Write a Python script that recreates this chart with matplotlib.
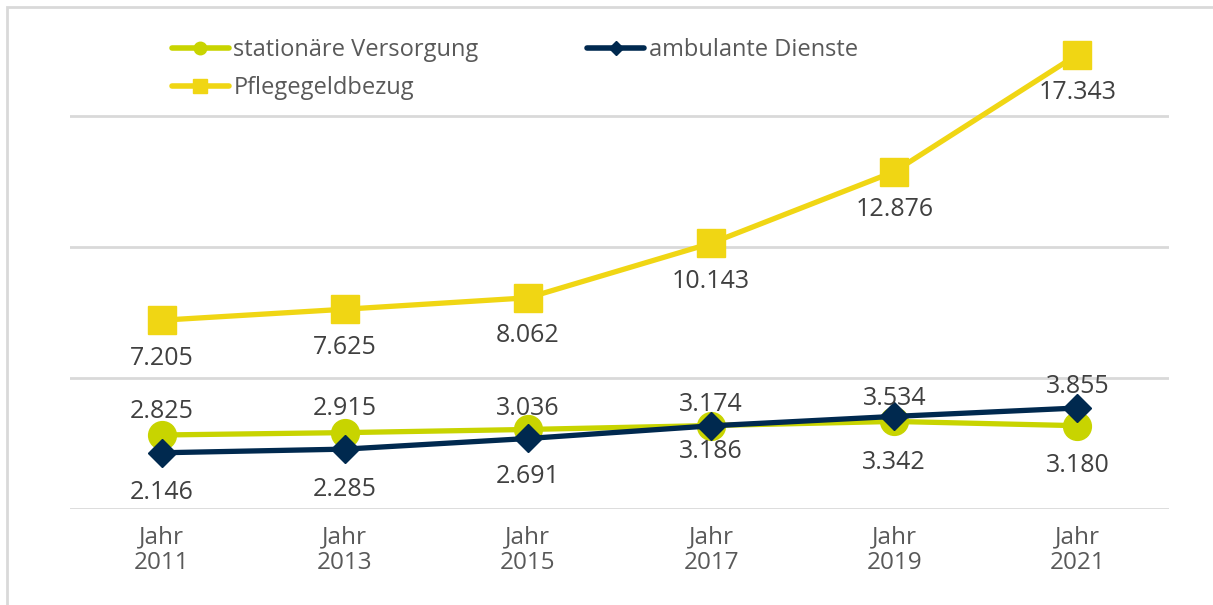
import numpy as np
import matplotlib.pyplot as plt
from matplotlib.lines import Line2D
from matplotlib.patches import Rectangle

# data
years = ["Jahr\n2011", "Jahr\n2013", "Jahr\n2015", "Jahr\n2017", "Jahr\n2019", "Jahr\n2021"]
stationaer = [2825, 2915, 3036, 3186, 3342, 3180]
ambulant = [2146, 2285, 2691, 3174, 3534, 3855]
pflegegeld = [7205, 7625, 8062, 10143, 12876, 17343]

c_stat = "#C8D400"
c_amb = "#00294F"
c_pfl = "#F0D614"
c_text = "#404040"

plt.rcParams['font.family'] = ['Open Sans', 'DejaVu Sans']

fig = plt.figure(figsize=(12.13, 6.05), dpi=100)
W, H = 1213, 605
# axes area in pixels: x 70..1169, y top 10 .. bottom 509
ax = fig.add_axes([70 / W, 1 - 509 / H, (1169 - 70) / W, (509 - 10) / H])

x = np.arange(len(years))
ax.plot(x, pflegegeld, color=c_pfl, lw=3.8, marker="s", ms=20, zorder=3, solid_capstyle="round")
ax.plot(x, stationaer, color=c_stat, lw=3.8, marker="o", ms=20, zorder=4, solid_capstyle="round")
ax.plot(x, ambulant, color=c_amb, lw=3.8, marker="D", ms=14, zorder=5, solid_capstyle="round")

ax.set_xlim(-0.5, len(years) - 0.5)
ax.set_ylim(0, (509 - 10) / 131 * 5000)
for g in [0, 5000, 10000, 15000]:
    ax.axhline(g, color="#D9D9D9", lw=2, zorder=1)

# label offsets in pixels (negative = below)
off_pfl = [-38, -38, -38, -38, -38, -38]
off_stat = [23, 24, 21, -26, -41, -40]
off_amb = [-40, -40, -38, 21, 18, 21]

def labels(vals, offs):
    for i, (v, o) in enumerate(zip(vals, offs)):
        txt = f"{v:,}".replace(",", ".")
        ax.annotate(txt, (i, v), xytext=(0, o), textcoords="offset pixels",
                    ha="center", va="center", fontsize=18, color=c_text, zorder=6)

labels(pflegegeld, off_pfl)
labels(stationaer, off_stat)
labels(ambulant, off_amb)

ax.set_xticks(x)
ax.set_xticklabels(years, fontsize=17.5, color="#595959", linespacing=1.1)
ax.tick_params(axis="x", length=0, pad=12)
ax.set_yticks([])
for s in ax.spines.values():
    s.set_visible(False)

# legend fills column-wise, so order handles to get the row layout of the original
handles = [
    Line2D([], [], color=c_stat, lw=4, marker="o", ms=9, solid_capstyle="round"),
    Line2D([], [], color=c_pfl, lw=4, marker="s", ms=10, solid_capstyle="round"),
    Line2D([], [], color=c_amb, lw=4, marker="D", ms=7, solid_capstyle="round"),
]
names = ["stationäre Versorgung", "Pflegegeldbezug", "ambulante Dienste"]
leg = fig.legend(handles, names, loc="upper left", bbox_to_anchor=(172 / W, 1 - 38 / H),
                 ncol=2, frameon=False, fontsize=17, handlelength=2.4, handletextpad=0.2,
                 columnspacing=4.6, labelspacing=0.6, borderaxespad=0, borderpad=0)
for t in leg.get_texts():
    t.set_color("#595959")

fig.patches.append(Rectangle((7 / W, -0.1), 1.2, 1 - 7 / H + 0.1, transform=fig.transFigure,
                             fill=False, edgecolor="#D9D9D9", lw=2))

fig.savefig("out.png", dpi=100)
